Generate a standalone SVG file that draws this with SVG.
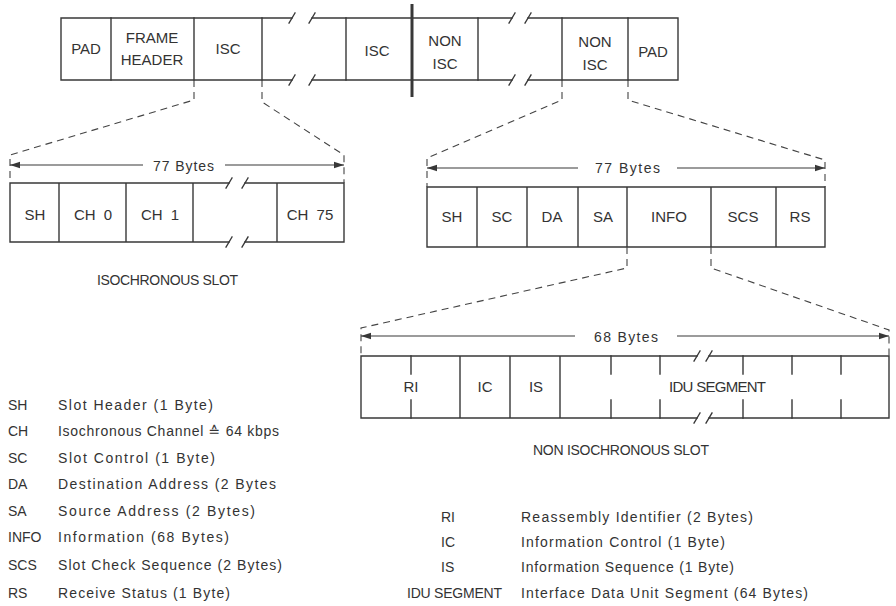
<svg xmlns="http://www.w3.org/2000/svg" width="896" height="606" viewBox="0 0 896 606">
<defs>
<style>
.ln{fill:none;stroke:#383838;stroke-width:1.4;stroke-linecap:square}
.thick{fill:none;stroke:#383838;stroke-width:3}
.dash{fill:none;stroke:#444;stroke-width:1.1;stroke-dasharray:7 5}
.dim{fill:none;stroke:#383838;stroke-width:1.1}
text{font-family:"Liberation Sans","DejaVu Sans",sans-serif;font-size:14px;fill:#333}
.c{text-anchor:middle;word-spacing:4px;font-size:15px}
</style>
<marker id="ah" viewBox="0 0 10 8" refX="10" refY="4" markerWidth="10" markerHeight="8" markerUnits="userSpaceOnUse" orient="auto">
<path d="M0,0.8 L10,4 L0,7.2 Z" fill="#383838"/>
</marker>
</defs>
<rect width="896" height="606" fill="#fff"/>

<g id="frame">
<path class="ln" d="M61,18 H292 M312,18 H512 M528,18 H678 M61,80 H292 M312,80 H512 M528,80 H678 M61,18 V80 M678,18 V80"/>
<path class="ln" d="M289,23 L295,13 M309,23 L315,13 M289,85 L295,75 M309,85 L315,75 M509,23 L515,13 M525,23 L531,13 M509,85 L515,75 M525,85 L531,75"/>
<path class="ln" d="M111,18 V80 M194,18 V80 M262,18 V80 M346,18 V80 M478,18 V80 M562,18 V80 M628,18 V80"/>
<path class="thick" d="M412,4 V97"/>
<g id="f-pad1"><text class="c" x="86" y="54">PAD</text></g>
<g id="f-header"><text class="c" x="152" y="43">FRAME</text><text class="c" x="152" y="65">HEADER</text></g>
<g id="f-isc1"><text class="c" x="228" y="54">ISC</text></g>
<g id="f-gap1"></g>
<g id="f-isc2"><text class="c" x="377" y="56">ISC</text></g>
<g id="f-nonisc1"><text class="c" x="445" y="46">NON</text><text class="c" x="445" y="69">ISC</text></g>
<g id="f-gap2"></g>
<g id="f-nonisc2"><text class="c" x="595" y="47">NON</text><text class="c" x="595" y="70">ISC</text></g>
<g id="f-pad2"><text class="c" x="653" y="57">PAD</text></g>
</g>

<g id="iso-slot">
<path class="ln" d="M10,183 H229 M245,183 H344 M10,242 H229 M245,242 H344 M10,183 V242 M344,183 V242 M59,183 V242 M126,183 V242 M193,183 V242 M277,183 V242"/>
<path class="ln" d="M226,188 L232,178 M242,188 L248,178 M226,247 L232,237 M242,247 L248,237"/>
<g id="iso-sh"><text class="c" x="35" y="220">SH</text></g>
<g id="iso-ch0"><text class="c" x="93" y="220">CH 0</text></g>
<g id="iso-ch1"><text class="c" x="160" y="220">CH 1</text></g>
<g id="iso-ch75"><text class="c" x="310" y="220">CH 75</text></g>
<text x="97" y="285" textLength="141" lengthAdjust="spacing">ISOCHRONOUS SLOT</text>
</g>

<g id="noniso-slot">
<path class="ln" d="M427,187 H825 V247 H427 Z M477,187 V247 M527,187 V247 M578,187 V247 M627,187 V247 M711,187 V247 M776,187 V247"/>
<g id="n-sh"><text class="c" x="452" y="222">SH</text></g>
<g id="n-sc"><text class="c" x="502" y="222">SC</text></g>
<g id="n-da"><text class="c" x="552" y="222">DA</text></g>
<g id="n-sa"><text class="c" x="603" y="222">SA</text></g>
<g id="n-info"><text class="c" x="669" y="222">INFO</text></g>
<g id="n-scs"><text class="c" x="743" y="222">SCS</text></g>
<g id="n-rs"><text class="c" x="800" y="222">RS</text></g>
</g>

<g id="info-field">
<path class="ln" d="M361,356 H697 M709,356 H889 M361,418 H697 M709,418 H889 M361,356 V418 M889,356 V418 M460,356 V418 M510,356 V418 M560,356 V418"/>
<path class="ln" d="M694,361 L700,351 M706,361 L712,351 M694,423 L700,413 M706,423 L712,413"/>
<path class="ln" d="M411,356 V374 M411,400 V418 M611,356 V374 M611,400 V418 M660,356 V374 M660,400 V418 M743,356 V374 M743,400 V418 M792,356 V374 M792,400 V418 M841,356 V374 M841,400 V418"/>
<g id="i-ri"><text class="c" x="411" y="392">RI</text></g>
<g id="i-ic"><text class="c" x="485" y="392">IC</text></g>
<g id="i-is"><text class="c" x="536" y="392">IS</text></g>
<g id="i-idu"><text x="669" y="392" style="font-size:15px" textLength="97" lengthAdjust="spacing">IDU SEGMENT</text></g>
<text x="533" y="455" textLength="176" lengthAdjust="spacing">NON ISOCHRONOUS SLOT</text>
</g>

<g id="connectors">
<path class="dash" d="M194,80 V100 L10,155 V183"/>
<path class="dash" d="M262,80 V102 L344,155 V183"/>
<path class="dash" d="M562,80 V100 L427,158 V187"/>
<path class="dash" d="M628,80 V100 L825,160 V187"/>
<path class="dash" d="M627,247 V268 L361,328 V356"/>
<path class="dash" d="M711,247 V268 L889,330 V356"/>
<path class="dim" d="M143,165 H10" marker-end="url(#ah)"/>
<path class="dim" d="M225,165 H344" marker-end="url(#ah)"/>
<path class="dim" d="M578,168 H427" marker-end="url(#ah)"/>
<path class="dim" d="M677,168 H825" marker-end="url(#ah)"/>
<path class="dim" d="M575,336 H361" marker-end="url(#ah)"/>
<path class="dim" d="M677,336 H889" marker-end="url(#ah)"/>
<text x="153" y="171" textLength="61" lengthAdjust="spacing">77 Bytes</text>
<text x="595" y="173" textLength="65" lengthAdjust="spacing">77 Bytes</text>
<text x="594" y="342" textLength="64" lengthAdjust="spacing">68 Bytes</text>
</g>

<g id="legend-left">
<text x="8" y="410">SH</text><text x="58" y="410" textLength="155" lengthAdjust="spacing">Slot Header (1 Byte)</text>
<text x="8" y="436">CH</text><text x="58" y="436" textLength="221" lengthAdjust="spacing">Isochronous Channel  ≙ 64 kbps</text>
<text x="8" y="463">SC</text><text x="58" y="463" textLength="157" lengthAdjust="spacing">Slot Control (1 Byte)</text>
<text x="8" y="489">DA</text><text x="58" y="489" textLength="218" lengthAdjust="spacing">Destination Address (2 Bytes</text>
<text x="8" y="516">SA</text><text x="58" y="516" textLength="197" lengthAdjust="spacing">Source Address (2 Bytes)</text>
<text x="8" y="542">INFO</text><text x="58" y="542" textLength="171" lengthAdjust="spacing">Information (68 Bytes)</text>
<text x="8" y="570">SCS</text><text x="58" y="570" textLength="224" lengthAdjust="spacing">Slot Check Sequence (2 Bytes)</text>
<text x="8" y="598">RS</text><text x="58" y="598" textLength="172" lengthAdjust="spacing">Receive Status (1 Byte)</text>
</g>

<g id="legend-right">
<text x="441" y="522">RI</text><text x="521" y="522" textLength="232" lengthAdjust="spacing">Reassembly Identifier (2 Bytes)</text>
<text x="441" y="547">IC</text><text x="521" y="547" textLength="204" lengthAdjust="spacing">Information Control (1 Byte)</text>
<text x="441" y="572">IS</text><text x="521" y="572" textLength="213" lengthAdjust="spacing">Information Sequence (1 Byte)</text>
<text x="407" y="598" textLength="95" lengthAdjust="spacing">IDU SEGMENT</text><text x="521" y="598" textLength="287" lengthAdjust="spacing">Interface Data Unit Segment (64 Bytes)</text>
</g>
</svg>
